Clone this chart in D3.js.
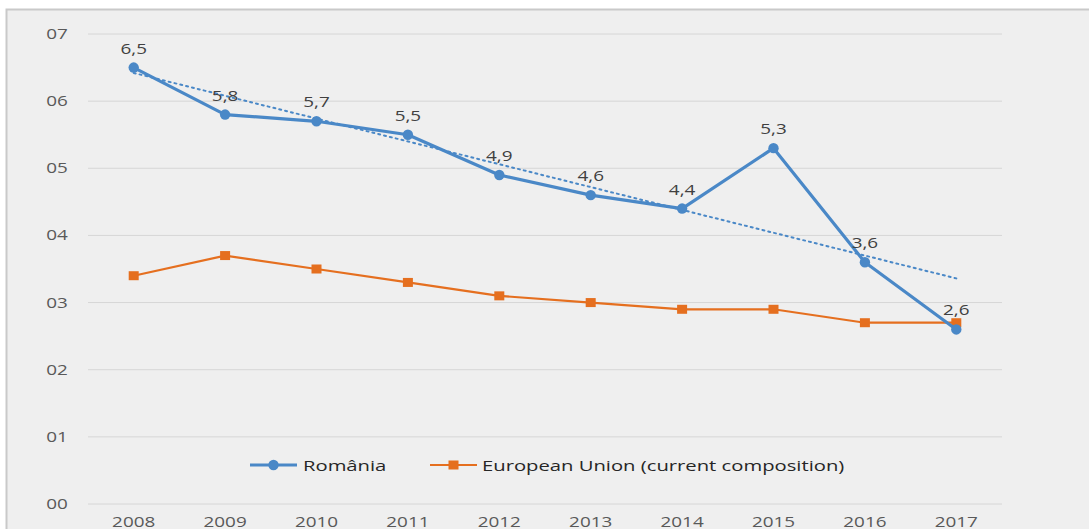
<!DOCTYPE html>
<html>
<head>
<meta charset="utf-8">
<script src="https://cdn.jsdelivr.net/npm/d3@7"></script>
<style>
  html, body { margin: 0; padding: 0; background: #fff; overflow: hidden; }
  svg { display: block; font-family: "Open Sans", "DejaVu Sans", sans-serif; }
</style>
</head>
<body>
<svg id="chart" width="1089" height="529"></svg>
<script>
const years = ['2008', '2009', '2010', '2011', '2012', '2013', '2014', '2015', '2016', '2017'];
const romania = [6.5, 5.8, 5.7, 5.5, 4.9, 4.6, 4.4, 5.3, 3.6, 2.6];
const eu = [3.4, 3.7, 3.5, 3.3, 3.1, 3.0, 2.9, 2.9, 2.7, 2.7];
const yTicks = [0, 1, 2, 3, 4, 5, 6, 7];
const yTickLabels = ['00', '01', '02', '03', '04', '05', '06', '07'];
const seriesNames = ['România', 'European Union (current composition)'];

const BLUE = '#4a88c7', ORANGE = '#e56f1f';
const SX = 1.35; // source picture is stretched sideways

let svg = d3.select('#chart');

// panel background
svg.append('rect')
  .attr('x', 6.5).attr('y', 9.5)
  .attr('width', 1100).attr('height', 540)
  .attr('fill', '#efefef')
  .attr('stroke', '#c9c9c9')
  .attr('stroke-width', 2);

const PLOT_L = 88, PLOT_R = 1002, PLOT_T = 34, PLOT_B = 504;

let x = d3.scaleBand().domain(years).range([PLOT_L, PLOT_R]);
let y = d3.scaleLinear().domain([0, 7]).range([PLOT_B, PLOT_T]);
const cx = d => x(d) + x.bandwidth() / 2;
const at = (px, py) => `translate(${px},${py}) scale(${SX},1)`;

// gridlines
svg.append('g')
  .selectAll('line')
  .data(yTicks)
  .enter()
  .append('line')
  .attr('x1', PLOT_L).attr('x2', PLOT_R)
  .attr('y1', d => y(d)).attr('y2', d => y(d))
  .attr('stroke', '#d6d6d6')
  .attr('stroke-width', 1);

// y labels
svg.append('g')
  .selectAll('text')
  .data(yTicks)
  .enter()
  .append('text')
  .attr('transform', d => at(57, y(d) + 5))
  .attr('text-anchor', 'middle')
  .attr('font-size', 14)
  .attr('fill', '#595959')
  .text((d, i) => yTickLabels[i]);

// x labels
svg.append('g')
  .selectAll('text')
  .data(years)
  .enter()
  .append('text')
  .attr('transform', d => at(cx(d), 527))
  .attr('text-anchor', 'middle')
  .attr('font-size', 14)
  .attr('fill', '#595959')
  .text(d => d);

// linear trend for Romania
const n = romania.length;
const mx = d3.mean(d3.range(n)), my = d3.mean(romania);
const slope = d3.sum(romania, (v, i) => (i - mx) * (v - my)) / d3.sum(d3.range(n), i => (i - mx) ** 2);
const icpt = my - slope * mx;
svg.append('line')
  .attr('x1', cx(years[0])).attr('y1', y(icpt))
  .attr('x2', cx(years[n - 1])).attr('y2', y(icpt + slope * (n - 1)))
  .attr('stroke', BLUE)
  .attr('stroke-width', 2)
  .attr('stroke-dasharray', '2,4')
  .attr('stroke-linecap', 'round');

let line = d3.line()
  .x((d, i) => cx(years[i]))
  .y(d => y(d));

// EU series
svg.append('path')
  .datum(eu)
  .attr('d', line)
  .attr('fill', 'none')
  .attr('stroke', ORANGE)
  .attr('stroke-width', 2.2);

svg.append('g')
  .selectAll('rect')
  .data(eu)
  .enter()
  .append('rect')
  .attr('x', (d, i) => cx(years[i]) - 5)
  .attr('y', d => y(d) - 4.5)
  .attr('width', 10).attr('height', 9)
  .attr('fill', ORANGE);

// Romania series
svg.append('path')
  .datum(romania)
  .attr('d', line)
  .attr('fill', 'none')
  .attr('stroke', BLUE)
  .attr('stroke-width', 3.2)
  .attr('stroke-linejoin', 'round');

svg.append('g')
  .selectAll('circle')
  .data(romania)
  .enter()
  .append('circle')
  .attr('cx', (d, i) => cx(years[i]))
  .attr('cy', d => y(d))
  .attr('r', 5.2)
  .attr('fill', BLUE);

// data labels
svg.append('g')
  .selectAll('text')
  .data(romania)
  .enter()
  .append('text')
  .attr('transform', (d, i) => at(cx(years[i]), y(d) - 14))
  .attr('text-anchor', 'middle')
  .attr('font-size', 14)
  .attr('fill', '#404040')
  .text(d => String(d).replace('.', ','));

// legend
const legendY = 465;
const legendItems = [
  { name: seriesNames[0], color: BLUE, x0: 250, shape: 'circle' },
  { name: seriesNames[1], color: ORANGE, x0: 430, shape: 'rect' }
];
let lg = svg.append('g')
  .selectAll('g')
  .data(legendItems)
  .enter()
  .append('g')
  .attr('transform', d => `translate(${d.x0},${legendY})`);

lg.append('line')
  .attr('x1', 0).attr('x2', 47)
  .attr('stroke', d => d.color)
  .attr('stroke-width', d => d.shape === 'circle' ? 3 : 2.2);

lg.filter(d => d.shape === 'circle')
  .append('circle')
  .attr('cx', 23.5).attr('r', 5.2)
  .attr('fill', d => d.color);

lg.filter(d => d.shape === 'rect')
  .append('rect')
  .attr('x', 18.5).attr('y', -4.5)
  .attr('width', 10).attr('height', 9)
  .attr('fill', d => d.color);

lg.append('text')
  .attr('transform', d => at(d.shape === 'circle' ? 53 : 52, 5.5))
  .attr('font-size', 15)
  .attr('fill', '#262626')
  .text(d => d.name);
</script>
</body>
</html>
